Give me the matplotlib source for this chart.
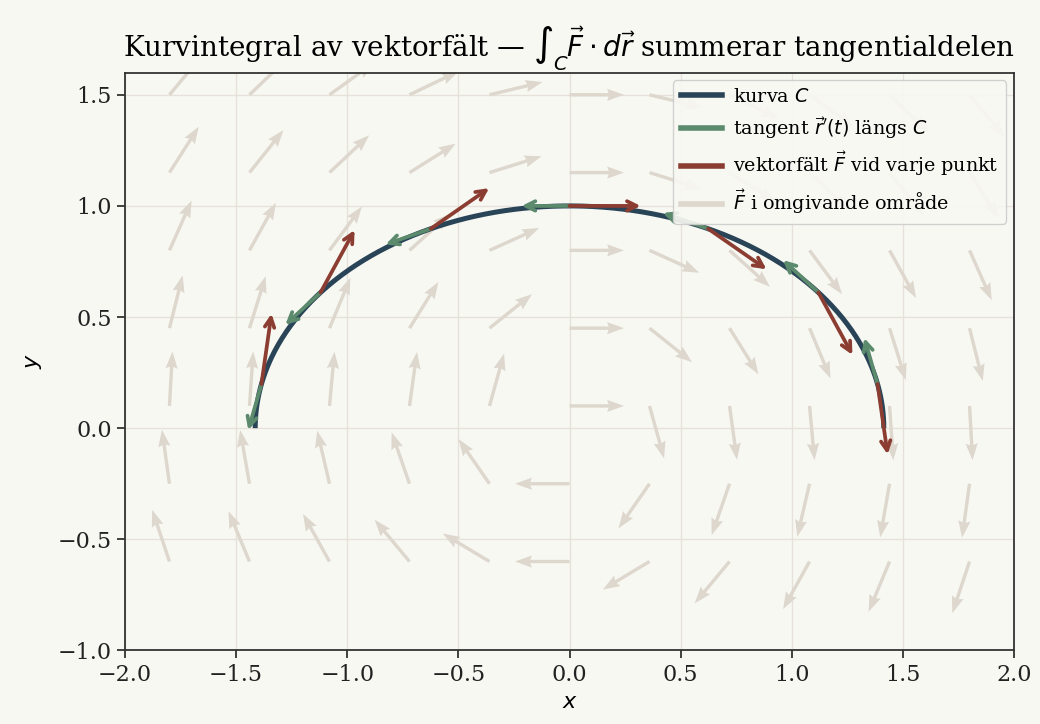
import numpy as np
import matplotlib
matplotlib.use("Agg")
import matplotlib.pyplot as plt
from matplotlib.lines import Line2D

# ---- data ----
grid_x = [-1.8, -1.44, -1.08, -0.72, -0.36, 0.0, 0.36, 0.72, 1.08, 1.44, 1.8]
grid_y = [-0.6, -0.25, 0.1, 0.45, 0.8, 1.15, 1.5]
curve_a = np.sqrt(2.0)   # semi-axis in x
curve_b = 1.0            # semi-axis in y
sample_t = [0.2, 0.657, 1.114, 1.5708, 2.028, 2.485, 2.942]
xticks = [-2.0, -1.5, -1.0, -0.5, 0.0, 0.5, 1.0, 1.5, 2.0]
yticks = [-1.0, -0.5, 0.0, 0.5, 1.0, 1.5]
title = r"Kurvintegral av vektorfält — $\int_C \vec{F}\cdot d\vec{r}$ summerar tangentialdelen"
legend_labels = [r"kurva $C$", r"tangent $\vec{r}'(t)$ längs $C$",
                 r"vektorfält $\vec{F}$ vid varje punkt", r"$\vec{F}$ i omgivande område"]

def field(x, y):
    return y, -x

def curve(t):
    return curve_a * np.cos(t), curve_b * np.sin(t)

def tangent(t):
    return -curve_a * np.sin(t), curve_b * np.cos(t)

# ---- style ----
BG = "#f8f8f3"
C_CURVE = "#2a4457"
C_TAN = "#5b8a6c"
C_F = "#8c3d32"
C_BG_ARROW = "#ddd7cd"

plt.rcParams["font.family"] = ["DejaVu Serif"]
plt.rcParams["mathtext.fontset"] = "dejavusans"

fig = plt.figure(figsize=(10.4, 7.24), dpi=100, facecolor=BG)
ax = fig.add_axes([0.1202, 0.1008, 0.8548, 0.7998])
ax.set_facecolor(BG)

ax.grid(True, color="#e6e2da", lw=1.0, zorder=0)
ax.set_axisbelow(True)

# background field
X, Y = np.meshgrid(grid_x, grid_y)
U, V = field(X, Y)
N = np.hypot(U, V)
L = 0.245
ax.quiver(X, Y, U / N * L, V / N * L, angles="xy", scale_units="xy", scale=1,
          color=C_BG_ARROW, width=0.0038, headwidth=3.6, headlength=5,
          headaxislength=4.5, zorder=1)

# curve
tt = np.linspace(0, np.pi, 400)
cx, cy = curve(tt)
ax.plot(cx, cy, color=C_CURVE, lw=3.6, zorder=3, solid_capstyle="butt")

# arrows along curve
for t in sample_t:
    px, py = curve(t)
    tx, ty = tangent(t)
    tn = np.hypot(tx, ty)
    fx, fy = field(px, py)
    fn = np.hypot(fx, fy)
    ax.annotate("", xy=(px + tx / tn * 0.215, py + ty / tn * 0.215), xytext=(px, py),
                arrowprops=dict(arrowstyle="->", color=C_TAN, lw=2.7,
                                mutation_scale=17, shrinkA=0, shrinkB=0),
                zorder=4)
    ax.annotate("", xy=(px + fx / fn * 0.32, py + fy / fn * 0.32), xytext=(px, py),
                arrowprops=dict(arrowstyle="->", color=C_F, lw=2.7,
                                mutation_scale=17, shrinkA=0, shrinkB=0),
                zorder=5)

ax.set_xlim(-2, 2)
ax.set_ylim(-1, 1.6)
ax.set_aspect("equal")
ax.set_xticks(xticks)
ax.set_yticks(yticks)
ax.tick_params(labelsize=16, length=6, width=1.2, colors="#222222")
for s in ax.spines.values():
    s.set_color("#333333")
    s.set_linewidth(1.3)

ax.set_xlabel(r"$x$", fontsize=16, labelpad=4)
ax.set_ylabel(r"$y$", fontsize=16, labelpad=10)
ax.set_title(title, fontsize=20.0, pad=10)

handles = [Line2D([0], [0], color=C_CURVE, lw=4),
           Line2D([0], [0], color=C_TAN, lw=4),
           Line2D([0], [0], color=C_F, lw=4),
           Line2D([0], [0], color=C_BG_ARROW, lw=4)]
leg = ax.legend(handles, legend_labels, loc="upper right", fontsize=13.8,
                facecolor=BG, edgecolor="#cccccc", framealpha=0.9,
                borderaxespad=0.4, handlelength=2.15, handletextpad=0.6,
                labelspacing=0.5)
leg.set_zorder(10)

fig.savefig("out.png", dpi=100, facecolor=BG)
